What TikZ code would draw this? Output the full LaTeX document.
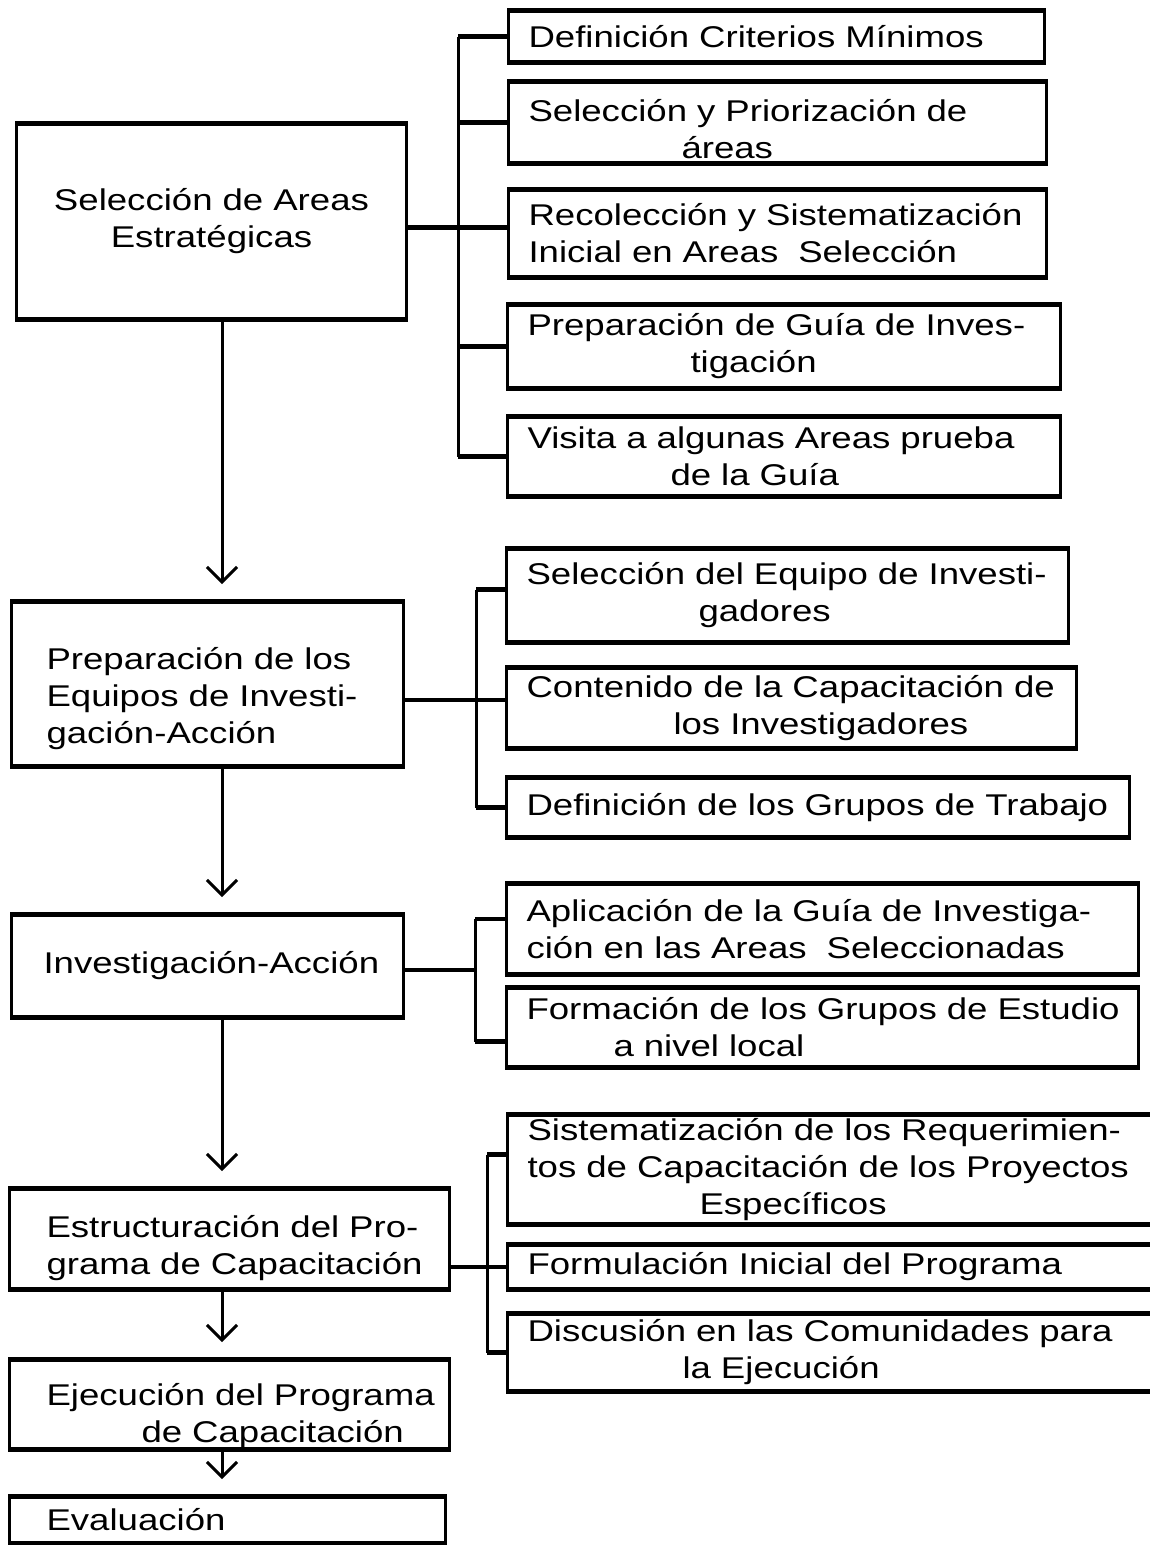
\documentclass[tikz,border=0pt]{standalone}
\usepackage{fontspec}
\setmainfont[FakeStretch=1.22]{Liberation Sans}
\usetikzlibrary{arrows.meta}
\begin{document}
\begin{tikzpicture}[x=1pt,y=-1pt,
  box/.style={draw, line width=3pt, inner ysep=0pt, anchor=north west,
    align=left, font=\fontsize{30}{37}\selectfont},
  rbox/.style={box, inner xsep=20pt},
  edgeline/.style={line width=4.5pt},
  tick/.style={line width=4.5pt},
  brk/.style={line width=3pt},
  arr/.style={line width=3pt, shorten >=16pt, -{Straight Barb[length=15pt,width=30pt]}}]
\clip (0,0) rectangle (1150,1545);
\fill[white] (0,0) rectangle (1150,1545);
% left column
\node[box, align=center, inner xsep=20pt, minimum width=390pt, minimum height=196pt, text width=350pt] (L1) at (15,122) {Selección de Areas\\Estratégicas};
\node[box, inner xsep=35pt, minimum width=392pt, minimum height=165pt, text width=322pt] (L2) at (10,600) {\rule{0pt}{51pt}\mbox{Preparación de los}\\\mbox{Equipos de Investi-}\\\mbox{gación-Acción}};
\node[box, inner xsep=32pt, minimum width=392pt, minimum height=103pt, text width=328pt] (L3) at (10,913) {\mbox{Investigación-Acción}};
\node[box, inner xsep=37pt, minimum width=440pt, minimum height=101pt, text width=366pt] (L4) at (8,1187) {\rule{0pt}{41pt}\mbox{Estructuración del Pro-}\\\mbox{grama de Capacitación}};
\node[box, inner xsep=37pt, minimum width=440pt, minimum height=90pt, text width=366pt] (L5) at (8,1358) {\rule{0pt}{45pt}\mbox{Ejecución del Programa}\\\hspace*{95pt}de Capacitación};
\node[box, inner xsep=37pt, minimum width=436pt, minimum height=47pt, text width=362pt] (L6) at (8,1495) {Evaluación};
% right column
\node[rbox, minimum width=536pt, minimum height=52pt, text width=496pt] (R1) at (507,9) {\mbox{Definición Criterios Mínimos}};
\node[rbox, minimum width=538pt, minimum height=82pt, text width=498pt] (R2) at (507,80) {\rule{0pt}{35pt}\mbox{Selección y Priorización de}\\\hspace*{153pt}áreas};
\node[rbox, minimum width=538pt, minimum height=88pt, text width=498pt] (R3) at (507,188) {\mbox{Recolección y Sistematización}\\\mbox{Inicial en Areas\ \ Selección}};
\node[rbox, minimum width=553pt, minimum height=84pt, text width=513pt] (R4) at (506,303) {\mbox{Preparación de Guía de Inves-}\\\hspace*{163pt}tigación};
\node[rbox, minimum width=553pt, minimum height=80pt, text width=513pt] (R5) at (506,415) {\mbox{Visita a algunas Areas prueba}\\\hspace*{143pt}de la Guía};
\node[rbox, minimum width=562pt, minimum height=94pt, text width=522pt] (R6) at (505,547) {\mbox{Selección del Equipo de Investi-}\\\hspace*{172pt}gadores};
\node[rbox, minimum width=570pt, minimum height=81pt, text width=530pt] (R7) at (505,666) {\mbox{Contenido de la Capacitación de}\\\hspace*{147pt}los Investigadores};
\node[rbox, minimum width=623pt, minimum height=60pt, text width=583pt] (R8) at (505,776) {\mbox{Definición de los Grupos de Trabajo}};
\node[rbox, minimum width=632pt, minimum height=91pt, text width=592pt] (R9) at (505,882) {\mbox{Aplicación de la Guía de Investiga-}\\\mbox{ción en las Areas\ \ Seleccionadas}};
\node[rbox, minimum width=632pt, minimum height=80pt, text width=592pt] (R10) at (505,986) {\mbox{Formación de los Grupos de Estudio}\\\hspace*{87pt}a nivel local};
\node[rbox, minimum width=660pt, minimum height=110pt, text width=620pt] (R11) at (506,1113) {\mbox{Sistematización de los Requerimien-}\\\mbox{tos de Capacitación de los Proyectos}\\\hspace*{172pt}Específicos};
\node[rbox, minimum width=660pt, minimum height=45pt, text width=620pt] (R12) at (506,1243) {\mbox{Formulación Inicial del Programa}};
\node[rbox, minimum width=660pt, minimum height=78pt, text width=620pt] (R13) at (506,1312) {\mbox{Discusión en las Comunidades para}\\\hspace*{155pt}la Ejecución};
% heavier top and bottom edges
\foreach \n in {L1,L2,L3,L4,L5,L6,R1,R2,R3,R4,R5,R6,R7,R8,R9,R10,R11,R12,R13}
  \draw[edgeline] ([yshift=-1.5pt]\n.north west) -- ([yshift=-1.5pt]\n.north east)
                  ([yshift=1.5pt]\n.south west) -- ([yshift=1.5pt]\n.south east);
% bracket positions
\coordinate (b1) at (458,0);
\coordinate (b2) at (476,0);
\coordinate (b3) at (475,0);
\coordinate (b4) at (487,0);
\coordinate (ax) at (222,0);
% group 1
\draw[brk] (R1.west -| b1) -- (R5.west -| b1);
\foreach \r in {R1,R2,R4,R5} \draw[tick] (\r.west -| b1) -- (\r.west);
\draw[tick] ([yshift=-6pt]L1.east) -- ([yshift=-6pt]L1.east -| R3.west);
% group 2
\draw[brk] ([yshift=6pt]R6.west -| b2) -- (R8.west -| b2);
\draw[tick] ([yshift=6pt]R6.west -| b2) -- ([yshift=6pt]R6.west);
\draw[tick] (R8.west -| b2) -- (R8.west);
\draw[tick] ([yshift=8pt]R7.west -| L2.east) -- ([yshift=8pt]R7.west);
% group 3
\draw[brk] ([yshift=10pt]R9.west -| b3) -- ([yshift=-14pt]R10.west -| b3);
\draw[tick] ([yshift=10pt]R9.west -| b3) -- ([yshift=10pt]R9.west);
\draw[tick] ([yshift=-14pt]R10.west -| b3) -- ([yshift=-14pt]R10.west);
\draw[tick] ([yshift=-4pt]L3.east) -- ([yshift=-4pt]L3.east -| b3);
% group 4
\draw[brk] ([yshift=15pt]R11.west -| b4) -- (R13.west -| b4);
\draw[tick] ([yshift=15pt]R11.west -| b4) -- ([yshift=15pt]R11.west);
\draw[tick] (R13.west -| b4) -- (R13.west);
\draw[tick] (R12.west -| L4.east) -- (R12.west);
% arrows
\draw[arr] (ax |- L1.south) -- (ax |- L2.north);
\draw[arr] (ax |- L2.south) -- (ax |- L3.north);
\draw[arr] (ax |- L3.south) -- (ax |- L4.north);
\draw[arr] (ax |- L4.south) -- (ax |- L5.north);
\draw[arr] (ax |- L5.south) -- (ax |- L6.north);
\end{tikzpicture}
\end{document}
